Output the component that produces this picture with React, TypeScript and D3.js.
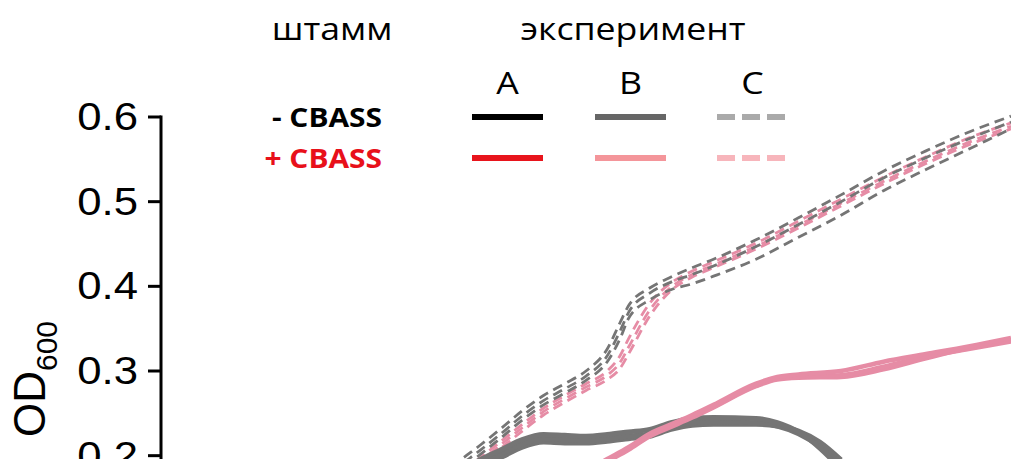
import React from "react";
import * as d3 from "d3";

// ---- data ----
const yTicks = [0, 0.1, 0.2, 0.3, 0.4, 0.5, 0.6];

// experiment C (dashed), time in minutes
const tC = [60, 70, 75, 80, 85, 90, 95, 100, 105, 108, 110, 115, 120, 125, 130, 140, 150, 160, 170, 180, 190, 200];
const cMinus1 = [0.148, 0.193, 0.212, 0.232, 0.253, 0.271, 0.285, 0.300, 0.326, 0.357, 0.377, 0.398, 0.411, 0.422, 0.432, 0.455, 0.481, 0.508, 0.536, 0.560, 0.582, 0.601];
const cMinus2 = [0.142, 0.187, 0.206, 0.226, 0.247, 0.265, 0.279, 0.294, 0.318, 0.347, 0.369, 0.392, 0.405, 0.414, 0.424, 0.447, 0.473, 0.500, 0.528, 0.552, 0.574, 0.594];
const cMinus3 = [0.138, 0.182, 0.201, 0.221, 0.242, 0.260, 0.274, 0.289, 0.311, 0.338, 0.362, 0.384, 0.396, 0.403, 0.412, 0.432, 0.458, 0.484, 0.513, 0.538, 0.562, 0.586];
const cPlus1 = [0.133, 0.178, 0.197, 0.217, 0.237, 0.256, 0.271, 0.285, 0.300, 0.318, 0.338, 0.380, 0.404, 0.418, 0.429, 0.451, 0.477, 0.503, 0.529, 0.553, 0.575, 0.593];
const cPlus2 = [0.130, 0.174, 0.193, 0.213, 0.233, 0.252, 0.267, 0.281, 0.295, 0.310, 0.328, 0.372, 0.399, 0.414, 0.425, 0.447, 0.472, 0.498, 0.524, 0.548, 0.570, 0.589];
const cPlus3 = [0.126, 0.170, 0.189, 0.209, 0.229, 0.248, 0.263, 0.277, 0.290, 0.303, 0.320, 0.365, 0.395, 0.411, 0.422, 0.444, 0.469, 0.495, 0.521, 0.545, 0.567, 0.586];

// experiment B, -CBASS (grey solid)
const tBMinus = [70, 75, 80, 85, 90, 95, 100, 105, 110, 115, 120, 125, 130, 140, 145, 150, 155, 160];
const bMinus1 = [0.180, 0.195, 0.207, 0.219, 0.225, 0.224, 0.223, 0.225, 0.228, 0.231, 0.239, 0.244, 0.245, 0.244, 0.239, 0.228, 0.209, 0.184];
const bMinus2 = [0.176, 0.191, 0.202, 0.214, 0.220, 0.219, 0.218, 0.220, 0.223, 0.226, 0.234, 0.239, 0.240, 0.239, 0.235, 0.226, 0.211, 0.189];
const bMinus3 = [0.172, 0.187, 0.198, 0.210, 0.216, 0.215, 0.215, 0.217, 0.220, 0.223, 0.231, 0.236, 0.237, 0.237, 0.235, 0.229, 0.216, 0.195];

// experiment B, +CBASS (pink solid)
const tBPlus = [100, 105, 110, 115, 120, 125, 130, 140, 145, 150, 160, 170, 180, 190, 200];
const bPlus1 = [0.182, 0.196, 0.210, 0.226, 0.237, 0.248, 0.260, 0.285, 0.293, 0.296, 0.300, 0.311, 0.320, 0.329, 0.339];
const bPlus2 = [0.179, 0.193, 0.207, 0.223, 0.234, 0.245, 0.257, 0.282, 0.290, 0.292, 0.293, 0.302, 0.315, 0.327, 0.336];
const bPlus3 = [0.180, 0.194, 0.208, 0.224, 0.235, 0.246, 0.258, 0.283, 0.291, 0.293, 0.295, 0.305, 0.317, 0.326, 0.335];

const strainLabels = ["- CBASS", "+ CBASS"];
const experimentLabels = ["A", "B", "C"];

const W = 1011;
const H = 459;
const SX = 1.15; // the source figure is stretched horizontally

export default function App() {
  const x = d3.scaleLinear().domain([0, 200]).range([161, 1011]);
  const y = d3.scaleLinear().domain([0, 0.6]).range([625, 117]);

  const line = (ts: number[]) =>
    d3
      .line<number>()
      .x((_, i) => x(ts[i]))
      .y((v) => y(v))
      .curve(d3.curveMonotoneX);

  const grey = "#757575";
  const pink = "#e68ca5";

  const dashed = [
    { v: cPlus3, c: pink },
    { v: cPlus2, c: pink },
    { v: cPlus1, c: pink },
    { v: cMinus3, c: grey },
    { v: cMinus2, c: grey },
    { v: cMinus1, c: grey },
  ];

  const legendRows = [
    { label: strainLabels[0], color: "#000", y: 117, cols: ["#000000", "#666666", "#aaaaaa"] },
    { label: strainLabels[1], color: "#e8101a", y: 158, cols: ["#e8141c", "#f4959a", "#f7b5bb"] },
  ];
  const colX = [472, 595, 717];
  const colW = 71;

  return (
    <div style={{ position: "absolute", left: 0, top: 0 }}>
      <svg width={W} height={H} style={{ display: "block", background: "#fff" }}>
        {/* data lines */}
        <g fill="none">
          {dashed.map((d, i) => (
            <path key={"c" + i} d={line(tC)(d.v) || ""} stroke={d.c} strokeWidth={2.8} strokeDasharray="10 6" />
          ))}
          {[bMinus3, bMinus2, bMinus1].map((v, i) => (
            <path key={"bm" + i} d={line(tBMinus)(v) || ""} stroke={grey} strokeWidth={5} />
          ))}
          {[bPlus2, bPlus3, bPlus1].map((v, i) => (
            <path key={"bp" + i} d={line(tBPlus)(v) || ""} stroke={pink} strokeWidth={4.5} />
          ))}
        </g>

        {/* y axis */}
        <g fontFamily="'Liberation Sans', Arial, sans-serif" fontSize={38}>
          <line x1={161} x2={161} y1={y(0.6) - 1.5} y2={y(0)} stroke="#000" strokeWidth={3} />
          {yTicks.map((t) => (
            <g key={t}>
              <line x1={148} x2={161} y1={y(t)} y2={y(t)} stroke="#000" strokeWidth={3} />
              <text transform={`translate(138, ${y(t)}) scale(${SX}, 1)`} textAnchor="end" dominantBaseline="central">
                {t.toFixed(1)}
              </text>
            </g>
          ))}
          <text transform={`translate(45, 437) rotate(-90)`} fontSize={44}>
            OD
            <tspan fontSize={30} dy={12}>
              600
            </tspan>
          </text>
        </g>

        {/* legend */}
        <g fontFamily="'Open Sans', 'Noto Sans', sans-serif">
          <text transform={`translate(332, 40) scale(${SX}, 1)`} fontSize={31} textAnchor="middle">
            штамм
          </text>
          <text transform={`translate(633, 40) scale(${SX}, 1)`} fontSize={31} textAnchor="middle">
            эксперимент
          </text>
          {experimentLabels.map((l, i) => (
            <text key={l} transform={`translate(${colX[i] + colW / 2}, 94) scale(${SX}, 1)`} fontSize={31} textAnchor="middle">
              {l}
            </text>
          ))}
          {legendRows.map((r) => (
            <g key={r.label}>
              <text
                transform={`translate(382, ${r.y}) scale(${SX}, 1)`}
                dominantBaseline="central"
                textAnchor="end"
                fontSize={26}
                fontWeight="bold"
                fill={r.color}
              >
                {r.label}
              </text>
              {r.cols.map((c, i) => (
                <line
                  key={i}
                  x1={colX[i]}
                  x2={colX[i] + colW - (i === 2 ? 3 : 0)}
                  y1={r.y}
                  y2={r.y}
                  stroke={c}
                  strokeWidth={6}
                  strokeDasharray={i === 2 ? "18 7" : undefined}
                />
              ))}
            </g>
          ))}
        </g>
      </svg>
    </div>
  );
}
